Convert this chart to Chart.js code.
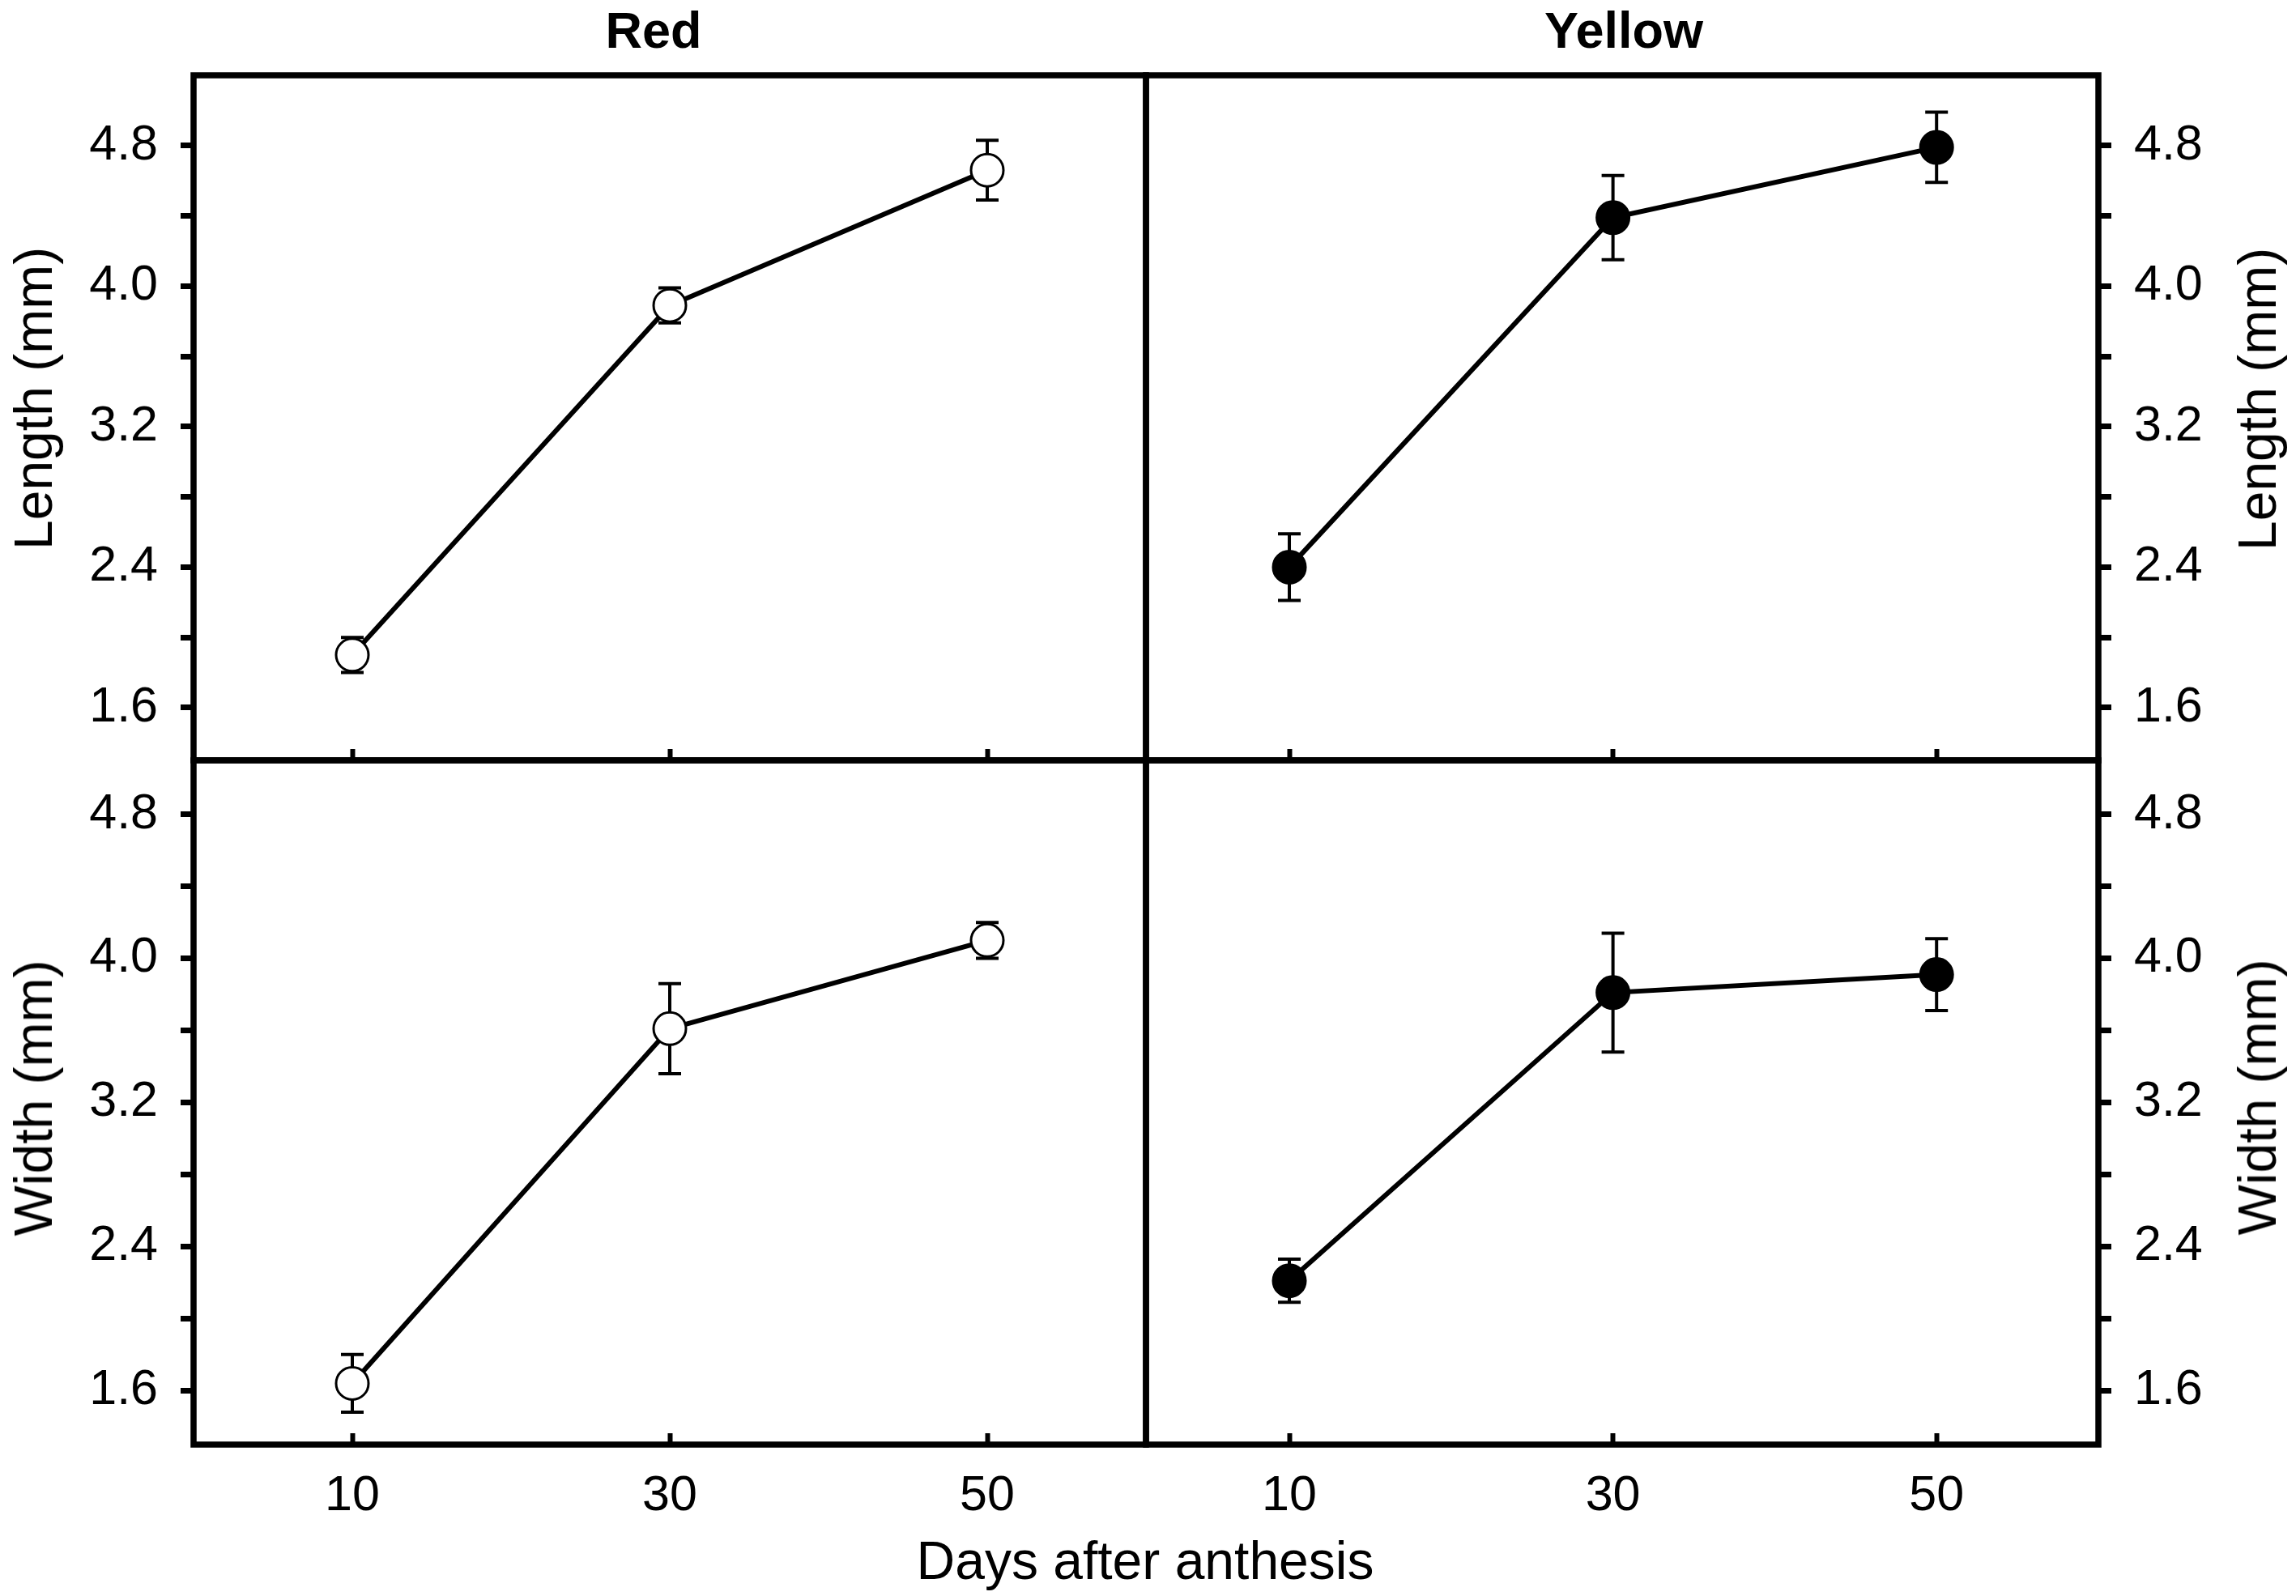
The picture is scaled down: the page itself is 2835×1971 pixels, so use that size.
<!DOCTYPE html>
<html>
<head>
<meta charset="utf-8">
<script src="https://cdn.jsdelivr.net/npm/chart.js@4.4.0/dist/chart.umd.min.js"></script>
<style>
  html, body { margin: 0; padding: 0; background: #fff; }
  body { width: 2835px; height: 1971px; position: relative; overflow: hidden;
         font-family: 'Liberation Sans', Arial, sans-serif; color: #000; }
  canvas { position: absolute; left: 0; top: 0; }
  .lbl { position: absolute; white-space: nowrap; line-height: 1; }
  .panel-title { font-weight: bold; font-size: 63px; transform: translateX(-50%); }
  .axis-title { font-size: 66px; }
  .rot { transform: translate(-50%, -50%) rotate(-90deg); }
</style>
</head>
<body>
<canvas id="red-length" width="2835" height="1971"></canvas>
<canvas id="yellow-length" width="2835" height="1971"></canvas>
<canvas id="red-width" width="2835" height="1971"></canvas>
<canvas id="yellow-width" width="2835" height="1971"></canvas>

<div class="lbl panel-title" style="left:807px; top:6px">Red</div>
<div class="lbl panel-title" style="left:2005px; top:6px">Yellow</div>
<div class="lbl axis-title rot" style="left:41px; top:492px">Length (mm)</div>
<div class="lbl axis-title rot" style="left:41px; top:1356px">Width (mm)</div>
<div class="lbl axis-title rot" style="left:2787px; top:493px">Length (mm)</div>
<div class="lbl axis-title rot" style="left:2787px; top:1355px">Width (mm)</div>
<div class="lbl axis-title" style="left:1414px; top:1894px; transform:translateX(-50%)">Days after anthesis</div>

<script>
// datos
const days = [10, 30, 50];
const redLength = [1.90, 3.89, 4.66];
const redLengthErr = [0.10, 0.10, 0.17];
const yellowLength = [2.40, 4.39, 4.79];
const yellowLengthErr = [0.19, 0.24, 0.20];
const redWidth = [1.64, 3.61, 4.10];
const redWidthErr = [0.16, 0.25, 0.10];
const yellowWidth = [2.21, 3.81, 3.91];
const yellowWidthErr = [0.12, 0.33, 0.20];

const xTicks = [10, 30, 50];
const yTicks = [1.6, 2.0, 2.4, 2.8, 3.2, 3.6, 4.0, 4.4, 4.8];
const yLabels = [1.6, 2.4, 3.2, 4.0, 4.8];

const W = 2835, H = 1971;
const AXIS_W = 200, AXIS_H = 120;

Chart.defaults.font.family = "'Liberation Sans', Arial, sans-serif";
Chart.defaults.font.size = 61;
Chart.defaults.color = '#000';

// barras de error, antes de la linea para que el marcador las tape
const errorBars = {
  id: 'errorBars',
  beforeDatasetsDraw(chart) {
    const ctx = chart.ctx;
    const xs = chart.scales.x, ys = chart.scales.y;
    ctx.save();
    ctx.strokeStyle = '#000';
    ctx.lineWidth = 4;
    chart.data.datasets.forEach(ds => {
      ds.data.forEach((p, i) => {
        const e = ds.errors[i];
        const x = xs.getPixelForValue(p.x);
        const y1 = ys.getPixelForValue(p.y + e);
        const y2 = ys.getPixelForValue(p.y - e);
        ctx.beginPath();
        ctx.moveTo(x, y1); ctx.lineTo(x, y2);
        ctx.moveTo(x - 14, y1); ctx.lineTo(x + 14, y1);
        ctx.moveTo(x - 14, y2); ctx.lineTo(x + 14, y2);
        ctx.stroke();
      });
    });
    ctx.restore();
  }
};

// marco del panel
const frame = {
  id: 'frame',
  afterDraw(chart) {
    const a = chart.chartArea, ctx = chart.ctx;
    ctx.save();
    ctx.strokeStyle = '#000';
    ctx.lineWidth = 7.5;
    ctx.strokeRect(a.left, a.top, a.right - a.left, a.bottom - a.top);
    ctx.restore();
  }
};

function panel(id, box, yPos, showXLabels, xMin, yMin, yMax, values, errors, fill) {
  const padding = {
    left: yPos === 'left' ? box.left - AXIS_W : box.left,
    right: yPos === 'right' ? W - box.right - AXIS_W : W - box.right,
    top: box.top,
    bottom: H - box.bottom - AXIS_H
  };
  return new Chart(document.getElementById(id), {
    type: 'scatter',
    data: {
      datasets: [{
        data: days.map((d, i) => ({ x: d, y: values[i] })),
        errors: errors,
        showLine: true,
        borderColor: '#000',
        borderWidth: 6,
        pointRadius: 20,
        pointHoverRadius: 20,
        pointBorderWidth: 3,
        pointBorderColor: '#000',
        pointBackgroundColor: fill,
        tension: 0
      }]
    },
    options: {
      responsive: false,
      animation: false,
      devicePixelRatio: 1,
      events: [],
      layout: { padding: padding, autoPadding: false },
      plugins: { legend: { display: false }, tooltip: { enabled: false } },
      scales: {
        x: {
          type: 'linear', position: 'bottom', min: xMin, max: 60,
          afterBuildTicks: s => { s.ticks = xTicks.map(v => ({ value: v })); },
          afterFit: s => { s.height = AXIS_H; },
          ticks: {
            padding: 42, maxRotation: 0, autoSkip: false,
            callback: v => showXLabels ? String(v) : ''
          },
          grid: { drawOnChartArea: false, drawTicks: true, tickLength: -14, tickWidth: 6, tickColor: '#000' },
          border: { display: false }
        },
        y: {
          type: 'linear', position: yPos, min: yMin, max: yMax,
          afterBuildTicks: s => { s.ticks = yTicks.map(v => ({ value: v })); },
          afterFit: s => { s.width = AXIS_W; },
          ticks: {
            padding: 28, autoSkip: false,
            callback: v => yLabels.includes(v) ? v.toFixed(1) : ''
          },
          grid: { drawOnChartArea: false, drawTicks: true, tickLength: 16, tickWidth: 7, tickColor: '#000' },
          border: { display: false }
        }
      }
    },
    plugins: [errorBars, frame]
  });
}

panel('red-length',    { left: 239,  right: 1415, top: 93,  bottom: 939 },  'left',  false, 0,    1.3, 5.2, redLength,    redLengthErr,    '#fff');
panel('yellow-length', { left: 1415, right: 2591, top: 93,  bottom: 939 },  'right', false, 1.14, 1.3, 5.2, yellowLength, yellowLengthErr, '#000');
panel('red-width',     { left: 239,  right: 1415, top: 939, bottom: 1784 }, 'left',  true,  0,    1.3, 5.1, redWidth,     redWidthErr,     '#fff');
panel('yellow-width',  { left: 1415, right: 2591, top: 939, bottom: 1784 }, 'right', true,  1.14, 1.3, 5.1, yellowWidth,  yellowWidthErr,  '#000');
</script>
</body>
</html>
